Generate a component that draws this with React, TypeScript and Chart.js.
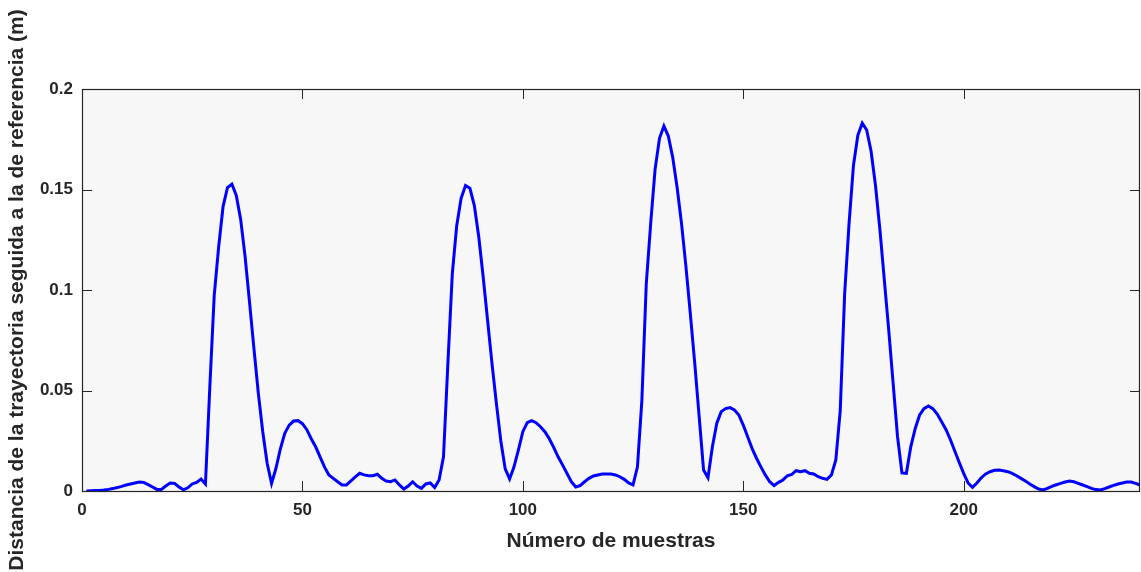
import React, { useEffect, useRef } from 'react';
import { Chart, registerables } from 'chart.js';

Chart.register(...registerables);

// Distancia (m) por número de muestra, muestras 1..240, en tramos
const tramo1 = [
  0, 0.0001, 0.0002, 0.0003, 0.0005, 0.0008, 0.0012, 0.0017, 0.0023, 0.003,
  0.0035, 0.004, 0.0045, 0.0043, 0.0032, 0.002, 0.0008, 0.0008, 0.0025, 0.004,
  0.0038, 0.002, 0.0006, 0.0016, 0.0035, 0.0043, 0.006, 0.0035, 0.052, 0.0975,
  0.1215, 0.1415, 0.151, 0.1527, 0.147, 0.135, 0.1166, 0.094, 0.071, 0.0486,
];
const tramo2 = [
  0.0295, 0.0138, 0.0038, 0.0113, 0.021, 0.0287, 0.0328, 0.0348, 0.035, 0.0335,
  0.0305, 0.026, 0.022, 0.017, 0.012, 0.008, 0.0063, 0.0046, 0.003, 0.003,
  0.005, 0.007, 0.0088, 0.008, 0.0076, 0.0076, 0.0083, 0.0063, 0.005, 0.0046,
  0.0055, 0.003, 0.001, 0.0025, 0.0046, 0.0025, 0.0013, 0.0035, 0.004, 0.0017,
];
const tramo3 = [
  0.0055, 0.017, 0.0635, 0.108, 0.132, 0.1456, 0.152, 0.1506, 0.142, 0.1265,
  0.1066, 0.085, 0.0635, 0.0436, 0.025, 0.011, 0.006, 0.012, 0.0204, 0.0295,
  0.034, 0.035, 0.034, 0.032, 0.0295, 0.026, 0.0217, 0.017, 0.013, 0.0088,
  0.0046, 0.002, 0.0027, 0.0046, 0.0063, 0.0075, 0.008, 0.0085, 0.0085, 0.0085,
];
const tramo4 = [
  0.008, 0.0071, 0.0058, 0.004, 0.003, 0.012, 0.045, 0.103, 0.133, 0.16,
  0.1755, 0.1816, 0.1766, 0.166, 0.151, 0.133, 0.1116, 0.088, 0.0635, 0.037,
  0.0104, 0.0066, 0.022, 0.0337, 0.0395, 0.041, 0.0415, 0.0403, 0.0378, 0.0328,
  0.027, 0.0212, 0.0163, 0.012, 0.008, 0.0046, 0.0027, 0.0043, 0.0055, 0.0076,
];
const tramo5 = [
  0.0083, 0.0101, 0.0096, 0.0101, 0.0088, 0.0085, 0.0071, 0.0063, 0.0058, 0.008,
  0.0154, 0.04, 0.098, 0.133, 0.162, 0.177, 0.183, 0.1796, 0.169, 0.152,
  0.13, 0.105, 0.08, 0.0536, 0.027, 0.009, 0.0088, 0.022, 0.031, 0.0378,
  0.041, 0.0423, 0.041, 0.0383, 0.0345, 0.0305, 0.0255, 0.0198, 0.0142, 0.0088,
];
const tramo6 = [
  0.004, 0.0018, 0.004, 0.0066, 0.0085, 0.0096, 0.0103, 0.0104, 0.0101, 0.0096,
  0.0088, 0.0076, 0.0063, 0.005, 0.0035, 0.0022, 0.001, 0.0005, 0.0013, 0.0023,
  0.0031, 0.0038, 0.0045, 0.005, 0.0046, 0.0038, 0.003, 0.0022, 0.0013, 0.0007,
  0.0005, 0.0012, 0.002, 0.0028, 0.0035, 0.004, 0.0045, 0.0045, 0.0038, 0.003,
];

const xTicks = [0, 50, 100, 150, 200];
const yTicks = [0, 0.05, 0.1, 0.15, 0.2];
const xTitle = 'Número de muestras';
const yTitle = 'Distancia de la trayectoria seguida a la de referencia (m)';

const AXIS_COLOR = '#262626';
const FONT_FAMILY = '"Liberation Sans", Arial, Helvetica, sans-serif';

const framePlugin = {
  id: 'matlabFrame',
  beforeDraw(chart: any) {
    const { ctx, chartArea } = chart;
    ctx.save();
    ctx.fillStyle = '#f7f7f7';
    ctx.fillRect(chartArea.left, chartArea.top, chartArea.right - chartArea.left, chartArea.bottom - chartArea.top);
    ctx.restore();
  },
  afterDraw(chart: any) {
    const { ctx, chartArea } = chart;
    const { left, right, top, bottom } = chartArea;
    const xs = chart.scales.x;
    const ys = chart.scales.y;
    const tl = 10;
    ctx.save();
    ctx.strokeStyle = AXIS_COLOR;
    ctx.lineWidth = 1;
    ctx.beginPath();
    for (const v of xTicks) {
      const px = Math.round(xs.getPixelForValue(v)) + 0.5;
      ctx.moveTo(px, bottom);
      ctx.lineTo(px, bottom - tl);
      ctx.moveTo(px, top);
      ctx.lineTo(px, top + tl);
    }
    for (const v of yTicks) {
      const py = Math.round(ys.getPixelForValue(v)) + 0.5;
      ctx.moveTo(left, py);
      ctx.lineTo(left + tl, py);
      ctx.moveTo(right, py);
      ctx.lineTo(right - tl, py);
    }
    ctx.stroke();
    ctx.lineWidth = 1.2;
    ctx.strokeRect(Math.round(left) + 0.5, Math.round(top) + 0.5, Math.round(right - left) - 1, Math.round(bottom - top));
    ctx.restore();
  },
};

export default function App() {
  const canvasRef = useRef<HTMLCanvasElement | null>(null);

  useEffect(() => {
    const canvas = canvasRef.current;
    if (!canvas) return;
    const valores = [...tramo1, ...tramo2, ...tramo3, ...tramo4, ...tramo5, ...tramo6];
    const puntos = valores.map((v, i) => ({ x: i + 1, y: v }));

    const chart = new Chart(canvas, {
      type: 'line',
      data: {
        datasets: [
          {
            data: puntos,
            borderColor: '#0000ff',
            borderWidth: 3,
            pointRadius: 0,
            tension: 0,
            fill: false,
          },
        ],
      },
      options: {
        animation: false,
        responsive: false,
        maintainAspectRatio: false,
        layout: { padding: { top: 89, right: 1, left: 0, bottom: 0 } },
        plugins: {
          legend: { display: false },
          tooltip: { enabled: false },
        },
        scales: {
          x: {
            type: 'linear',
            min: 0,
            max: 240,
            grid: { display: false, drawTicks: false },
            border: { display: false },
            afterBuildTicks: (s: any) => {
              s.ticks = xTicks.map((v) => ({ value: v }));
            },
            afterFit: (s: any) => {
              s.height = 81;
            },
            ticks: {
              padding: 9,
              maxRotation: 0,
              autoSkip: false,
              color: AXIS_COLOR,
              font: { family: FONT_FAMILY, size: 17, weight: 'bold' },
              callback: (v: any) => String(v),
            },
            title: {
              display: true,
              text: xTitle,
              color: AXIS_COLOR,
              font: { family: FONT_FAMILY, size: 21, weight: 'bold' },
              padding: { top: 0, bottom: 18 },
            },
          },
          y: {
            type: 'linear',
            min: 0,
            max: 0.2,
            grid: { display: false, drawTicks: false },
            border: { display: false },
            afterBuildTicks: (s: any) => {
              s.ticks = yTicks.map((v) => ({ value: v }));
            },
            afterFit: (s: any) => {
              s.width = 82;
            },
            ticks: {
              padding: 9,
              autoSkip: false,
              color: AXIS_COLOR,
              font: { family: FONT_FAMILY, size: 17, weight: 'bold' },
              callback: (v: any) => String(v),
            },
            title: {
              display: true,
              text: yTitle,
              color: AXIS_COLOR,
              font: { family: FONT_FAMILY, size: 21, weight: 'bold' },
              padding: { top: 5, bottom: 0 },
            },
          },
        },
      },
      plugins: [framePlugin],
    });

    return () => {
      chart.destroy();
    };
  }, []);

  return (
    <div style={{ position: 'fixed', left: 0, top: 0, width: 1141, height: 572, background: '#ffffff' }}>
      <canvas ref={canvasRef} width={1141} height={572} style={{ display: 'block', width: 1141, height: 572 }} />
    </div>
  );
}
